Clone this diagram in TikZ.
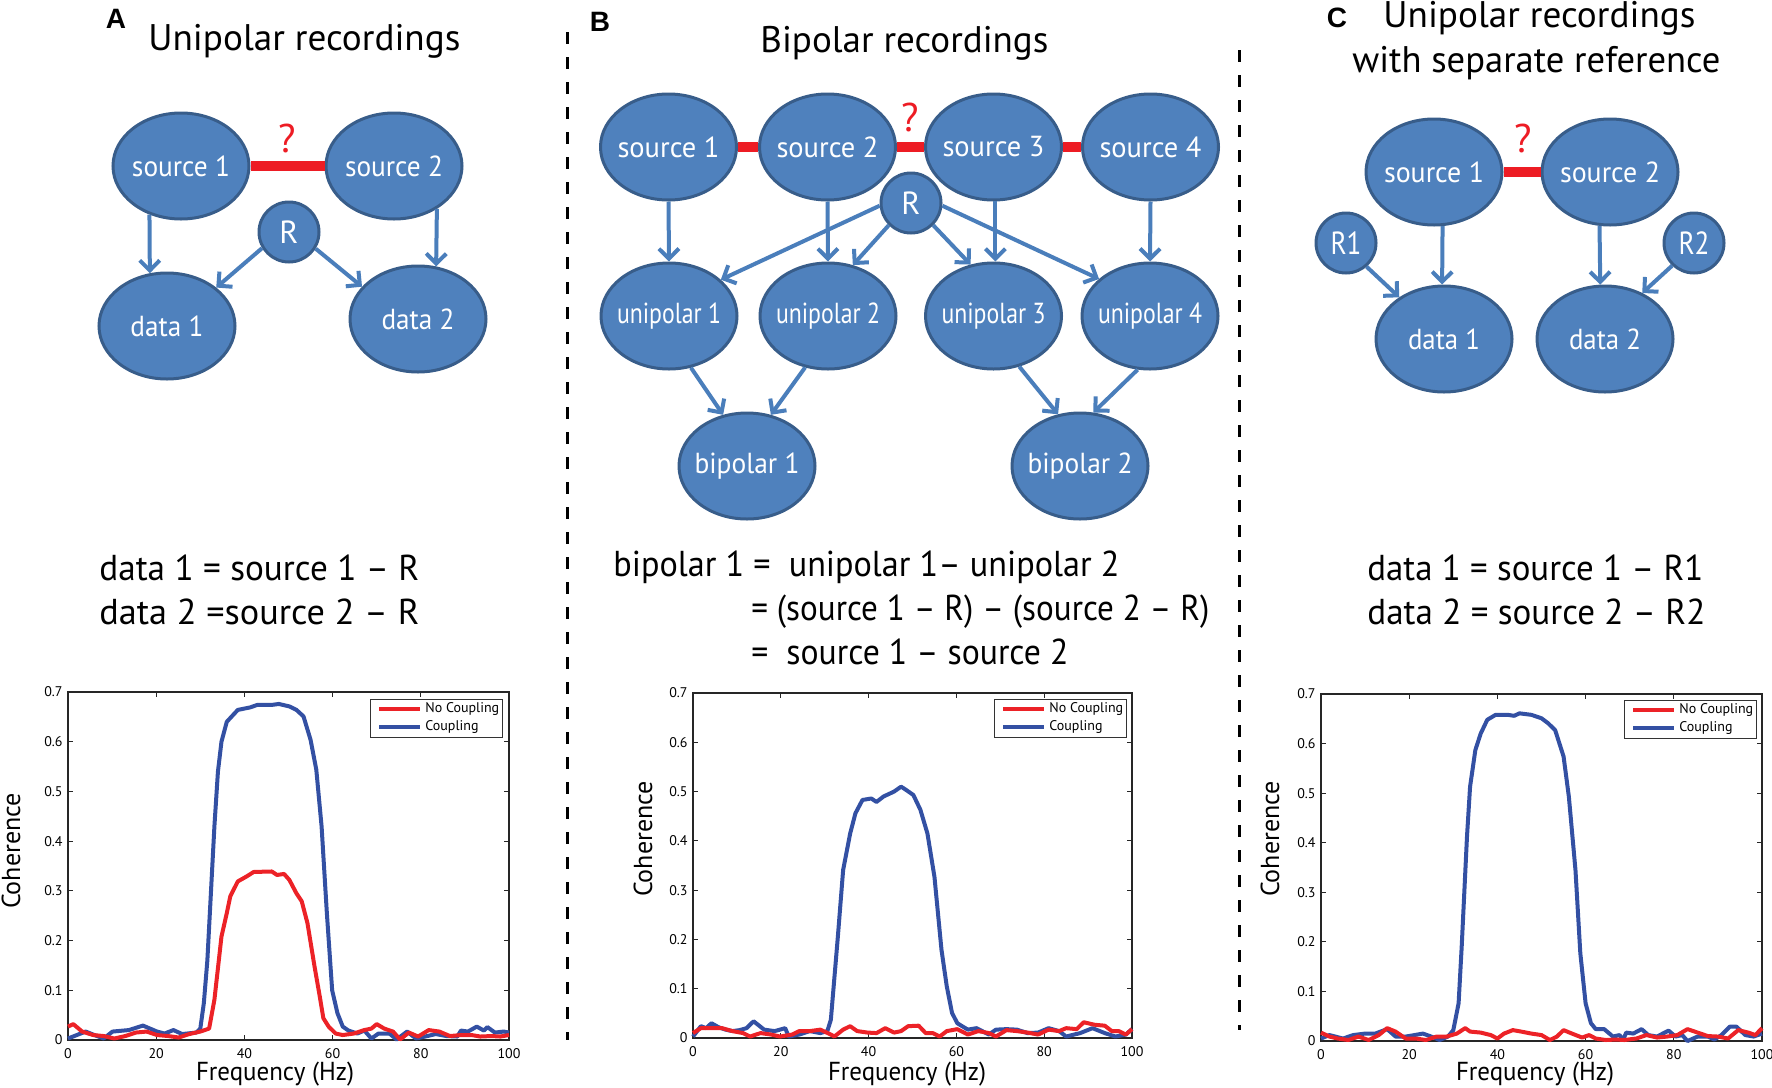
\documentclass[tikz,border=0pt]{standalone}
\usepackage{fontspec}
\setmainfont{PT Sans}
\newfontfamily\lblfont{Liberation Sans}
\usetikzlibrary{shapes.geometric,arrows.meta}
\newlength\pxu
\setlength\pxu{0.5pt}
\newcommand\fw[2]{\resizebox{#1\pxu}{\height}{#2}}
\newcommand\nt[2]{\makebox[0pt]{\fw{#1}{#2}}}
\definecolor{nfill}{HTML}{4F81BD}
\definecolor{nline}{HTML}{385D8A}
\definecolor{arrc}{HTML}{4A7EBB}
\definecolor{cbar}{HTML}{ED1C24}
\definecolor{pred}{HTML}{EC2227}
\definecolor{pblue}{HTML}{3350A3}
\tikzset{
 nd/.style={ellipse, fill=nfill, draw=nline, line width=1.5pt, minimum width=68pt, minimum height=53pt, inner sep=0pt, text=white, font=\fontsize{14.5}{14.5}\selectfont},
 rn/.style={circle, fill=nfill, draw=nline, line width=1.5pt, minimum size=30pt, inner sep=0pt, text=white, font=\fontsize{16}{16}\selectfont},
 arr/.style={draw=arrc, line width=2pt, -{Straight Barb[length=5pt,width=10pt]}},
 cpl/.style={draw=cbar, line width=5pt},
 qm/.style={text=cbar, font=\fontsize{20}{20}\selectfont, inner sep=0pt},
 ttl/.style={font=\fontsize{18.5}{18.5}\selectfont, inner sep=0pt, anchor=base west},
 eqA/.style={font=\fontsize{18}{18}\selectfont, inner sep=0pt, anchor=base west},
 plbl/.style={font=\lblfont\bfseries\fontsize{14}{14}\selectfont, inner sep=0pt},
 sep/.style={line width=1.5pt, dash pattern=on 6pt off 6.5pt},
 axisl/.style={draw=black!85, line width=0.6pt},
 tick/.style={font=\fontsize{7}{7}\selectfont, inner sep=0pt},
 axlab/.style={font=\fontsize{13}{13}\selectfont, inner sep=0pt},
 blueline/.style={draw=pblue, line width=2pt, line join=round},
 redline/.style={draw=pred, line width=2pt, line join=round},
 lgd/.style={draw=black!80, line width=0.5pt, fill=white},
 lgt/.style={font=\fontsize{7}{7}\selectfont, inner sep=0pt, anchor=west},
}
\newcommand\axesbox[1]{%
 \draw[axisl] (0,0) rectangle (100,0.7);
 \foreach \t in {0,20,40,60,80,100}{%
   \draw[axisl] (\t,0) -- ++(0,0.01);
   \draw[axisl] (\t,0.7) -- ++(0,-0.01);
   \node[tick,anchor=north] (#1x\t) at ([yshift=-4pt]\t,0) {\t};
 }
 \foreach \t [count=\i] in {0,0.1,0.2,0.3,0.4,0.5,0.6,0.7}{%
   \draw[axisl] (0,\t) -- ++(1.1,0);
   \draw[axisl] (100,\t) -- ++(-1.1,0);
   \node[tick,anchor=east] (#1y\i) at ([xshift=-2.5pt]0,\t) {\t};
 }
}
\newcommand\legendbox[3]{%
 \draw[lgd] (#2,#3) rectangle ++(132,38);
 \coordinate (#1ra) at ({#2+9},{#3+10});
 \coordinate (#1rb) at ({#2+50},{#3+10});
 \coordinate (#1ba) at ({#2+9},{#3+28});
 \coordinate (#1bb) at ({#2+50},{#3+28});
 \draw[redline] (#1ra) -- (#1rb);
 \draw[blueline] (#1ba) -- (#1bb);
 \node[lgt] (#1nc) at ({#2+55},{#3+10}) {No Coupling};
 \node[lgt] (#1cc) at ({#2+55},{#3+28}) {Coupling};
}
\begin{document}
\begin{tikzpicture}[x=0.5pt,y=-0.5pt]
\useasboundingbox (0,0) rectangle (1772,1087);

% separators
\coordinate (sepAt) at (567,32);
\coordinate (sepAb) at (567,1040);
\coordinate (sepBt) at (1239,50);
\coordinate (sepBb) at (1239,1030);
\draw[sep] (sepAt) -- (sepAb);
\draw[sep] (sepBt) -- (sepBb);

% ================= Panel A =================
\node[plbl] (labA) at (116,19) {A};
\node[ttl] (titA) at (148,50) {\fw{312}{Unipolar recordings}};
\node[nd] (As1) at (181,166) {\nt{98}{source 1}};
\node[nd] (As2) at (394,166) {\nt{98}{source 2}};
\node[rn] (AR) at (289,232) {R};
\node[nd] (Ad1) at (167,326) {\nt{73}{data 1}};
\node[nd] (Ad2) at (418,319) {\nt{73}{data 2}};
\draw[cpl] (As1.east) -- (As2.west);
\node[qm] (Aq) at (287,138) {?};
\draw[arr] (As1.237) -- (Ad1.108);
\draw[arr] (As2.315) -- (Ad2.71);
\draw[arr] (AR.211) -- (Ad1.38);
\draw[arr] (AR.328) -- (Ad2.150);
\node[eqA] (Aeq1) at (99,580) {\fw{320}{data 1 = source 1 – R}};
\node[eqA] (Aeq2) at (99,624) {\fw{320}{data 2 =source 2 – R}};

% ================= Panel B =================
\node[plbl] (labB) at (600,22) {B};
\node[ttl] (titB) at (760,52) {\fw{288}{Bipolar recordings}};
\node[nd] (Bs1) at (668.5,147) {\nt{102}{source 1}};
\node[nd] (Bs2) at (827.5,147) {\nt{102}{source 2}};
\node[nd] (Bs3) at (993.5,147) {\nt{102}{source 3}};
\node[nd] (Bs4) at (1150.5,147) {\nt{102}{source 4}};
\draw[cpl] (Bs1.east) -- (Bs2.west);
\draw[cpl] (Bs2.east) -- (Bs3.west);
\draw[cpl] (Bs3.east) -- (Bs4.west);
\node[qm] (Bq) at (910,117) {?};
\node[rn] (BR) at (911,203) {R};
\node[nd] (Bu1) at (669,316) {\nt{104}{unipolar 1}};
\node[nd] (Bu2) at (828,316) {\nt{104}{unipolar 2}};
\node[nd] (Bu3) at (993.5,316) {\nt{104}{unipolar 3}};
\node[nd] (Bu4) at (1150,316) {\nt{104}{unipolar 4}};
\node[nd] (Bb1) at (747,466) {\nt{105}{bipolar 1}};
\node[nd] (Bb2) at (1080,466) {\nt{105}{bipolar 2}};
\draw[arr] (Bs1.270) -- (Bu1.90);
\draw[arr] (Bs2.270) -- (Bu2.90);
\draw[arr] (Bs3.272) -- (Bu3.88);
\draw[arr] (Bs4.270) -- (Bu4.90);
\draw[arr] (BR.185) -- (Bu1.35);
\draw[arr] (BR.225) -- (Bu2.64);
\draw[arr] (BR.315) -- (Bu3.114);
\draw[arr] (BR.355) -- (Bu4.144);
\draw[arr] (Bu1.293) -- (Bb1.115);
\draw[arr] (Bu2.246) -- (Bb1.65);
\draw[arr] (Bu3.297) -- (Bb2.113);
\draw[arr] (Bu4.257) -- (Bb2.76);
\node[eqA] (Beq1) at (613,576) {\fw{506}{bipolar 1 =\ \ unipolar 1– unipolar 2}};
\node[eqA] (Beq2) at (751,620) {\fw{458}{= (source 1 – R) – (source 2 – R)}};
\node[eqA] (Beq3) at (751,664) {\fw{317}{=\ \ source 1 – source 2}};

% ================= Panel C =================
\node[plbl] (labC) at (1337,18) {C};
\node[ttl] (titC1) at (1383,27) {\fw{312}{Unipolar recordings}};
\node[ttl] (titC2) at (1352,72) {\fw{368}{with separate reference}};
\node[nd] (Cs1) at (1434,172) {\nt{100}{source 1}};
\node[nd] (Cs2) at (1610,172) {\nt{100}{source 2}};
\node[nd] (Cd1) at (1444,339) {\nt{72}{data 1}};
\node[nd] (Cd2) at (1605,339) {\nt{72}{data 2}};
\node[rn] (CR1) at (1346,243) {\nt{31}{R1}};
\node[rn] (CR2) at (1694,243) {\nt{31}{R2}};
\draw[cpl] (Cs1.east) -- (Cs2.west);
\node[qm] (Cq) at (1523,138) {?};
\draw[arr] (Cs1.279) -- (Cd1.92);
\draw[arr] (Cs2.259) -- (Cd2.95);
\draw[arr] (CR1.311) -- (Cd1.137);
\draw[arr] (CR2.226) -- (Cd2.51);
\node[eqA] (Ceq1) at (1367,580) {\fw{336}{data 1 = source 1 – R1}};
\node[eqA] (Ceq2) at (1367,624) {\fw{338}{data 2 = source 2 – R2}};

% ================= Plot A =================
\begin{scope}[shift={(68,1040)}, x={(2.205pt,0pt)}, y={(0pt,248.57pt)}]
\axesbox{PA}
\draw[blueline] plot coordinates {(0,0.003) (2,0.01) (4,0.017) (6,0.01) (8.1,0.003) (10.1,0.017) (13.8,0.02) (17,0.029) (18.6,0.023) (20.2,0.017) (21.9,0.013) (23.9,0.02) (25.9,0.012) (29.1,0.015) (30,0.023) (30.8,0.074) (31.6,0.16) (33.2,0.43) (34,0.54) (34.8,0.6) (36,0.64) (38.5,0.664) (41.3,0.669) (42.9,0.674) (46.2,0.674) (47.8,0.676) (50.2,0.671) (51.8,0.664) (53.4,0.651) (55,0.604) (56.3,0.544) (57.5,0.43) (58.7,0.255) (59.9,0.1) (61.1,0.054) (62.3,0.027) (63.6,0.019) (65.6,0.013) (67.2,0.019) (68.8,0.003) (70.4,0.013) (72.9,0.013) (74.5,0.001) (76.9,0.017) (78.9,0.003) (81,0.007) (83.4,0.012) (85.8,0.008) (88.3,0.007) (89.1,0.019) (90.7,0.017) (92.7,0.027) (94.3,0.019) (95.1,0.026) (96.8,0.015) (98.8,0.017) (100,0.015)};
\draw[redline] plot coordinates {(0,0.027) (1.2,0.032) (3.2,0.017) (5.7,0.01) (8.1,0.008) (10.5,0.003) (13,0.008) (15.4,0.015) (17.8,0.017) (20.2,0.01) (22.7,0.008) (25.1,0.005) (27.5,0.012) (30,0.017) (32,0.023) (33.2,0.081) (34.8,0.208) (36,0.255) (36.8,0.289) (38.5,0.319) (40.5,0.329) (42.1,0.338) (46.2,0.339) (47.4,0.332) (49,0.334) (50.2,0.322) (51.8,0.295) (53,0.279) (54.3,0.235) (55.9,0.148) (57.1,0.087) (57.9,0.044) (59.1,0.027) (60.7,0.013) (62.3,0.01) (64.8,0.013) (67.2,0.02) (68.8,0.023) (70,0.032) (71.7,0.023) (73.7,0.017) (75.3,0.001) (77.3,0.015) (79.4,0.007) (81.8,0.02) (84.2,0.017) (86.6,0.008) (89.1,0.01) (91.5,0.01) (93.5,0.007) (96,0.008) (98,0.007) (100,0.01)};
\end{scope}
\legendbox{LA}{370}{699}
\node[axlab, rotate=90] (PAcoh) at (11,851) {Coherence};
\node[axlab, anchor=base] (PAfreq) at (275,1080) {\fw{158}{Frequency (Hz)}};

% ================= Plot B =================
\begin{scope}[shift={(693,1038)}, x={(2.195pt,0pt)}, y={(0pt,246.43pt)}]
\axesbox{PB}
\draw[blueline] plot coordinates {(0,0.003) (1.8,0.024) (3,0.02) (4.2,0.03) (5.8,0.022) (7.4,0.017) (9,0.014) (10.6,0.016) (12.2,0.02) (13.8,0.034) (16.2,0.017) (18.6,0.014) (21,0.02) (21.8,0.003) (24.2,0.007) (26.6,0.014) (29,0.01) (30.6,0.014) (31.4,0.037) (33,0.206) (34.2,0.341) (35.8,0.415) (37,0.456) (38.6,0.483) (40.6,0.486) (41.8,0.479) (43.4,0.49) (45.8,0.5) (47.4,0.51) (48.6,0.503) (50.2,0.493) (51.8,0.463) (53.4,0.415) (55,0.327) (56.6,0.179) (57.8,0.105) (59,0.051) (60.2,0.03) (62.6,0.017) (64.6,0.02) (67.4,0.007) (69,0.017) (71.4,0.018) (73.8,0.017) (76.2,0.01) (78.6,0.011) (81,0.02) (83.4,0.014) (85,0.003) (88.2,0.01) (91,0.02) (93.8,0.01) (96.2,0.003) (98.6,0.007) (100,0.018)};
\draw[redline] plot coordinates {(0,0.01) (1.8,0.02) (4.2,0.02) (6.6,0.02) (9,0.014) (11.4,0.01) (13,0.003) (15.4,0.01) (17.8,0.007) (19.8,0.003) (22.6,0.007) (24.2,0.014) (26.6,0.014) (29,0.017) (31.4,0.007) (32.2,0.003) (34.2,0.017) (35.8,0.024) (37.4,0.014) (39.8,0.011) (41.8,0.01) (43.8,0.02) (45.8,0.011) (47.4,0.014) (49,0.024) (51.4,0.025) (53,0.01) (54.6,0.01) (56.2,0.003) (57.8,0.014) (60.2,0.018) (62.6,0.007) (65,0.014) (67.4,0.01) (69,0.003) (71.4,0.016) (73.8,0.014) (76.2,0.011) (78.6,0.007) (81,0.017) (83.4,0.014) (85,0.02) (87.4,0.018) (89,0.032) (91.4,0.027) (93.8,0.025) (95.4,0.014) (97,0.014) (98.6,0.007) (100,0.018)};
\end{scope}
\legendbox{LB}{994}{699}
\node[axlab, rotate=90] (PBcoh) at (643,839) {Coherence};
\node[axlab, anchor=base] (PBfreq) at (907,1080) {\fw{158}{Frequency (Hz)}};

% ================= Plot C =================
\begin{scope}[shift={(1321,1041)}, x={(2.205pt,0pt)}, y={(0pt,247.86pt)}]
\axesbox{PC}
\draw[blueline] plot coordinates {(0,0.005) (1.9,0.012) (5,0.005) (7.3,0.012) (10,0.015) (12.3,0.015) (15,0.024) (16.9,0.009) (19.2,0.009) (21.2,0.012) (23.1,0.015) (25,0.009) (26.9,0.002) (28.8,0.009) (30,0.022) (31.2,0.076) (31.9,0.19) (33.1,0.412) (33.8,0.513) (35,0.587) (36.2,0.62) (37.7,0.648) (39.6,0.658) (42.3,0.658) (43.8,0.656) (45,0.661) (47.7,0.658) (50,0.651) (51.5,0.641) (53.1,0.627) (55,0.574) (56.2,0.493) (57.7,0.345) (58.8,0.177) (60,0.076) (61.2,0.036) (62.3,0.024) (64.2,0.024) (66.2,0.009) (67.7,0.012) (68.5,0.002) (69.2,0.017) (70.8,0.015) (72.7,0.024) (74.2,0.012) (76.2,0.009) (78.8,0.021) (80.4,0.009) (81.9,0.012) (83.1,0) (85.4,0.009) (87.7,0.009) (89.2,0.003) (90.8,0.012) (92.7,0.029) (94.2,0.029) (96.2,0.012) (98.1,0.009) (100,0.015)};
\draw[redline] plot coordinates {(0,0.017) (1.9,0.009) (3.8,0.005) (6.2,0.002) (8.5,0.009) (10.8,0.002) (13.1,0.012) (15,0.026) (16.9,0.019) (19.2,0.005) (21.5,0.005) (23.8,0.002) (26.2,0.009) (28.5,0.009) (30.8,0.015) (32.7,0.026) (33.8,0.019) (36.2,0.017) (38.5,0.012) (40,0.005) (41.5,0.015) (43.5,0.022) (45.4,0.019) (47.7,0.015) (50,0.012) (51.9,0.002) (53.5,0.009) (55,0.022) (56.9,0.015) (59.2,0.007) (60.8,0.012) (62.3,0.005) (64.6,0.002) (66.9,0.003) (68.8,0.002) (71.5,0.005) (73.8,0.012) (76.2,0.007) (78.5,0.009) (80.8,0.012) (83.1,0.024) (85.4,0.017) (87.7,0.01) (90,0.009) (92.3,0.005) (94.6,0.022) (96.9,0.017) (98.5,0.012) (100,0.026)};
\end{scope}
\legendbox{LC}{1624}{700}
\node[axlab, rotate=90] (PCcoh) at (1270,839) {Coherence};
\node[axlab, anchor=base] (PCfreq) at (1535,1080) {\fw{158}{Frequency (Hz)}};
\end{tikzpicture}
\end{document}
